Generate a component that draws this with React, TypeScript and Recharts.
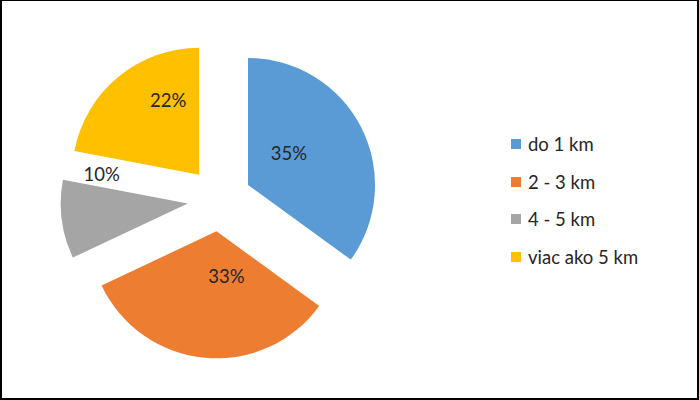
import { PieChart, Pie, Cell, Legend } from "recharts";

const categories = ["do 1 km", "2 - 3 km", "4 - 5 km", "viac ako 5 km"];
const shares = [35, 33, 10, 22];
const colors = ["#5B9BD5", "#ED7D31", "#A5A5A5", "#FFC000"];

const data = categories.map((name, i) => ({ name, value: shares[i] }));
const total = shares.reduce((a, b) => a + b, 0);

const RAD = Math.PI / 180;
const EXPLODE = 32; // how far every slice is pulled out
const FONT = "Lato, 'Open Sans', sans-serif";
const TEXT = "#262626";
const FONT_SIZE = 18.5;

// middle angle of each slice (recharts degrees, going clockwise from 12 o'clock)
const midAngles = shares.map((v, i) => {
  const before = shares.slice(0, i).reduce((a, b) => a + b, 0);
  return 90 - ((before + v / 2) / total) * 360;
});

const explodeOffset = (angle: number) => ({
  dx: EXPLODE * Math.cos(angle * RAD),
  dy: -EXPLODE * Math.sin(angle * RAD),
});

// label placement relative to the tip of each pulled-out slice (excel "best fit")
const labelNudge = [
  [41, -32],
  [10, 45],
  [-86, -30],
  [-31, -75],
];

const renderLabel = (props: any) => {
  const { cx, cy, percent, index } = props;
  const { dx, dy } = explodeOffset(midAngles[index]);
  const [nx, ny] = labelNudge[index];
  return (
    <text
      x={cx + dx + nx}
      y={cy + dy + ny}
      textAnchor="middle"
      dominantBaseline="central"
      fill={TEXT}
      fontSize={FONT_SIZE}
      fontFamily={FONT}
    >
      {`${Math.round(percent * 100)}%`}
    </text>
  );
};

const renderLegend = () => (
  <ul style={{ listStyle: "none", margin: 0, padding: 0, fontFamily: FONT, fontSize: FONT_SIZE, color: TEXT }}>
    {categories.map((c, i) => (
      <li key={c} style={{ display: "flex", alignItems: "center", height: 37.7 }}>
        <span style={{ display: "inline-block", width: 10, height: 10, background: colors[i], marginRight: 7 }} />
        <span>{c}</span>
      </li>
    ))}
  </ul>
);

const App = () => {
  return (
    <div style={{ position: "absolute", left: 0, top: 0, width: 699, height: 400, background: "#fff" }}>
      <PieChart width={699} height={400} margin={{ top: 0, right: 0, bottom: 0, left: 0 }}>
        <Pie
          data={data}
          dataKey="value"
          nameKey="name"
          cx={219.5}
          cy={199.5}
          outerRadius={127}
          startAngle={90}
          endAngle={-270}
          stroke="none"
          labelLine={false}
          label={renderLabel}
          isAnimationActive={false}
        >
          {data.map((d, i) => {
            const { dx, dy } = explodeOffset(midAngles[i]);
            return <Cell key={d.name} fill={colors[i]} transform={`translate(${dx} ${dy})`} />;
          })}
        </Pie>
        <Legend
          layout="vertical"
          align="right"
          verticalAlign="top"
          content={renderLegend}
          wrapperStyle={{ left: 511, top: 125, width: 180 }}
        />
      </PieChart>
      <div
        style={{
          position: "absolute",
          inset: 0,
          boxSizing: "border-box",
          borderStyle: "solid",
          borderColor: "#000",
          borderWidth: "1px 2px 2px 2px",
          pointerEvents: "none",
        }}
      />
    </div>
  );
};

export default App;
